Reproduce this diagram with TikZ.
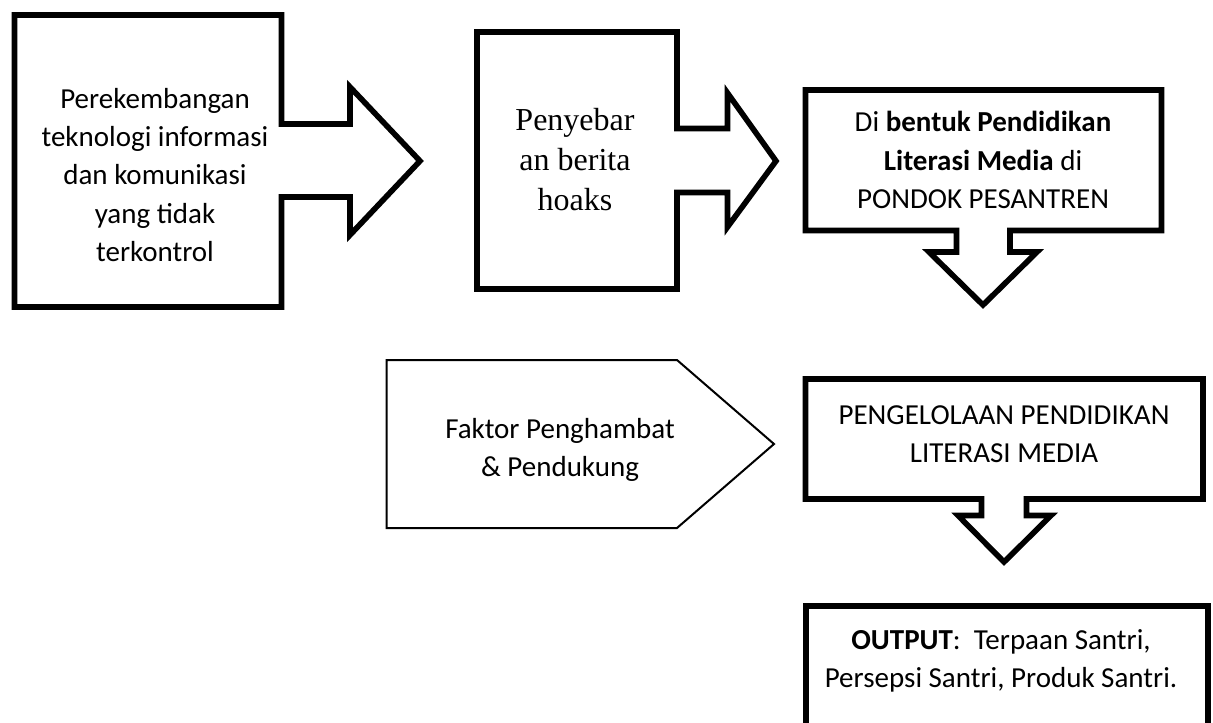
\documentclass[tikz,border=0pt]{standalone}
\usepackage{fontspec}
\setmainfont{Carlito}
\newfontfamily\timesfont{Liberation Serif}

\begin{document}
\begin{tikzpicture}[x=0.5pt, y=-0.5pt, every node/.style={font=\fontsize{14.5}{19.2}\selectfont, align=center, inner sep=0pt}, blok/.style={draw, line width=2.8pt, fill=white}, tipis/.style={draw, line width=1pt, fill=white}]
	\useasboundingbox (0,0) rectangle (1213,722);
	\clip (0,0) rectangle (1213,722);
	\draw[blok] (14.5,15) -- (281.5,15) -- (281.5,124) -- (350,124) -- (350,87) -- (420,161) -- (350,235) -- (350,197) -- (281.5,197) -- (281.5,307) -- (14.5,307) -- cycle;
	\draw[blok] (477,32) -- (677,32) -- (677,128.5) -- (727.5,128.5) -- (727.5,93) -- (776,161) -- (727.5,227) -- (727.5,192.5) -- (677,192.5) -- (677,289) -- (477,289) -- cycle;
	\draw[blok] (805.5,90) -- (1161.5,90) -- (1161.5,230.5) -- (1010,230.5) -- (1010,252) -- (1037,252) -- (983,305) -- (929,252) -- (956.5,252) -- (956.5,230.5) -- (805.5,230.5) -- cycle;
	\draw[tipis] (386.5,360) -- (677,360) -- (774,444) -- (677,528) -- (386.5,528) -- cycle;
	\draw[blok] (805.5,379) -- (1203,379) -- (1203,499) -- (1026.5,499) -- (1026.5,515.5) -- (1051,515.5) -- (1004,562) -- (958,515.5) -- (981.5,515.5) -- (981.5,499) -- (805.5,499) -- cycle;
	\draw[blok, line width=3.3pt] (806,606) rectangle (1208,760);
	\node (tik) at (155,175) {Perekembangan\\teknologi informasi\\dan komunikasi\\yang tidak\\terkontrol};
	\node[font=\timesfont\fontsize{16}{20}\selectfont] (hoaks) at (575,160) {Penyebar\\an berita\\hoaks};
	\node (bentuk) at (983,160) {Di \textbf{bentuk Pendidikan}\\\textbf{Literasi Media} di\\PONDOK PESANTREN};
	\node (faktor) at (560,450) {Faktor Penghambat\\\& Pendukung};
	\node (kelola) at (1004,434) {PENGELOLAAN PENDIDIKAN\\LITERASI MEDIA};
	\node (output) at (1001,661) {\textbf{OUTPUT}:\ \ Terpaan Santri,\\Persepsi Santri, Produk Santri.};
\end{tikzpicture}
\end{document}
